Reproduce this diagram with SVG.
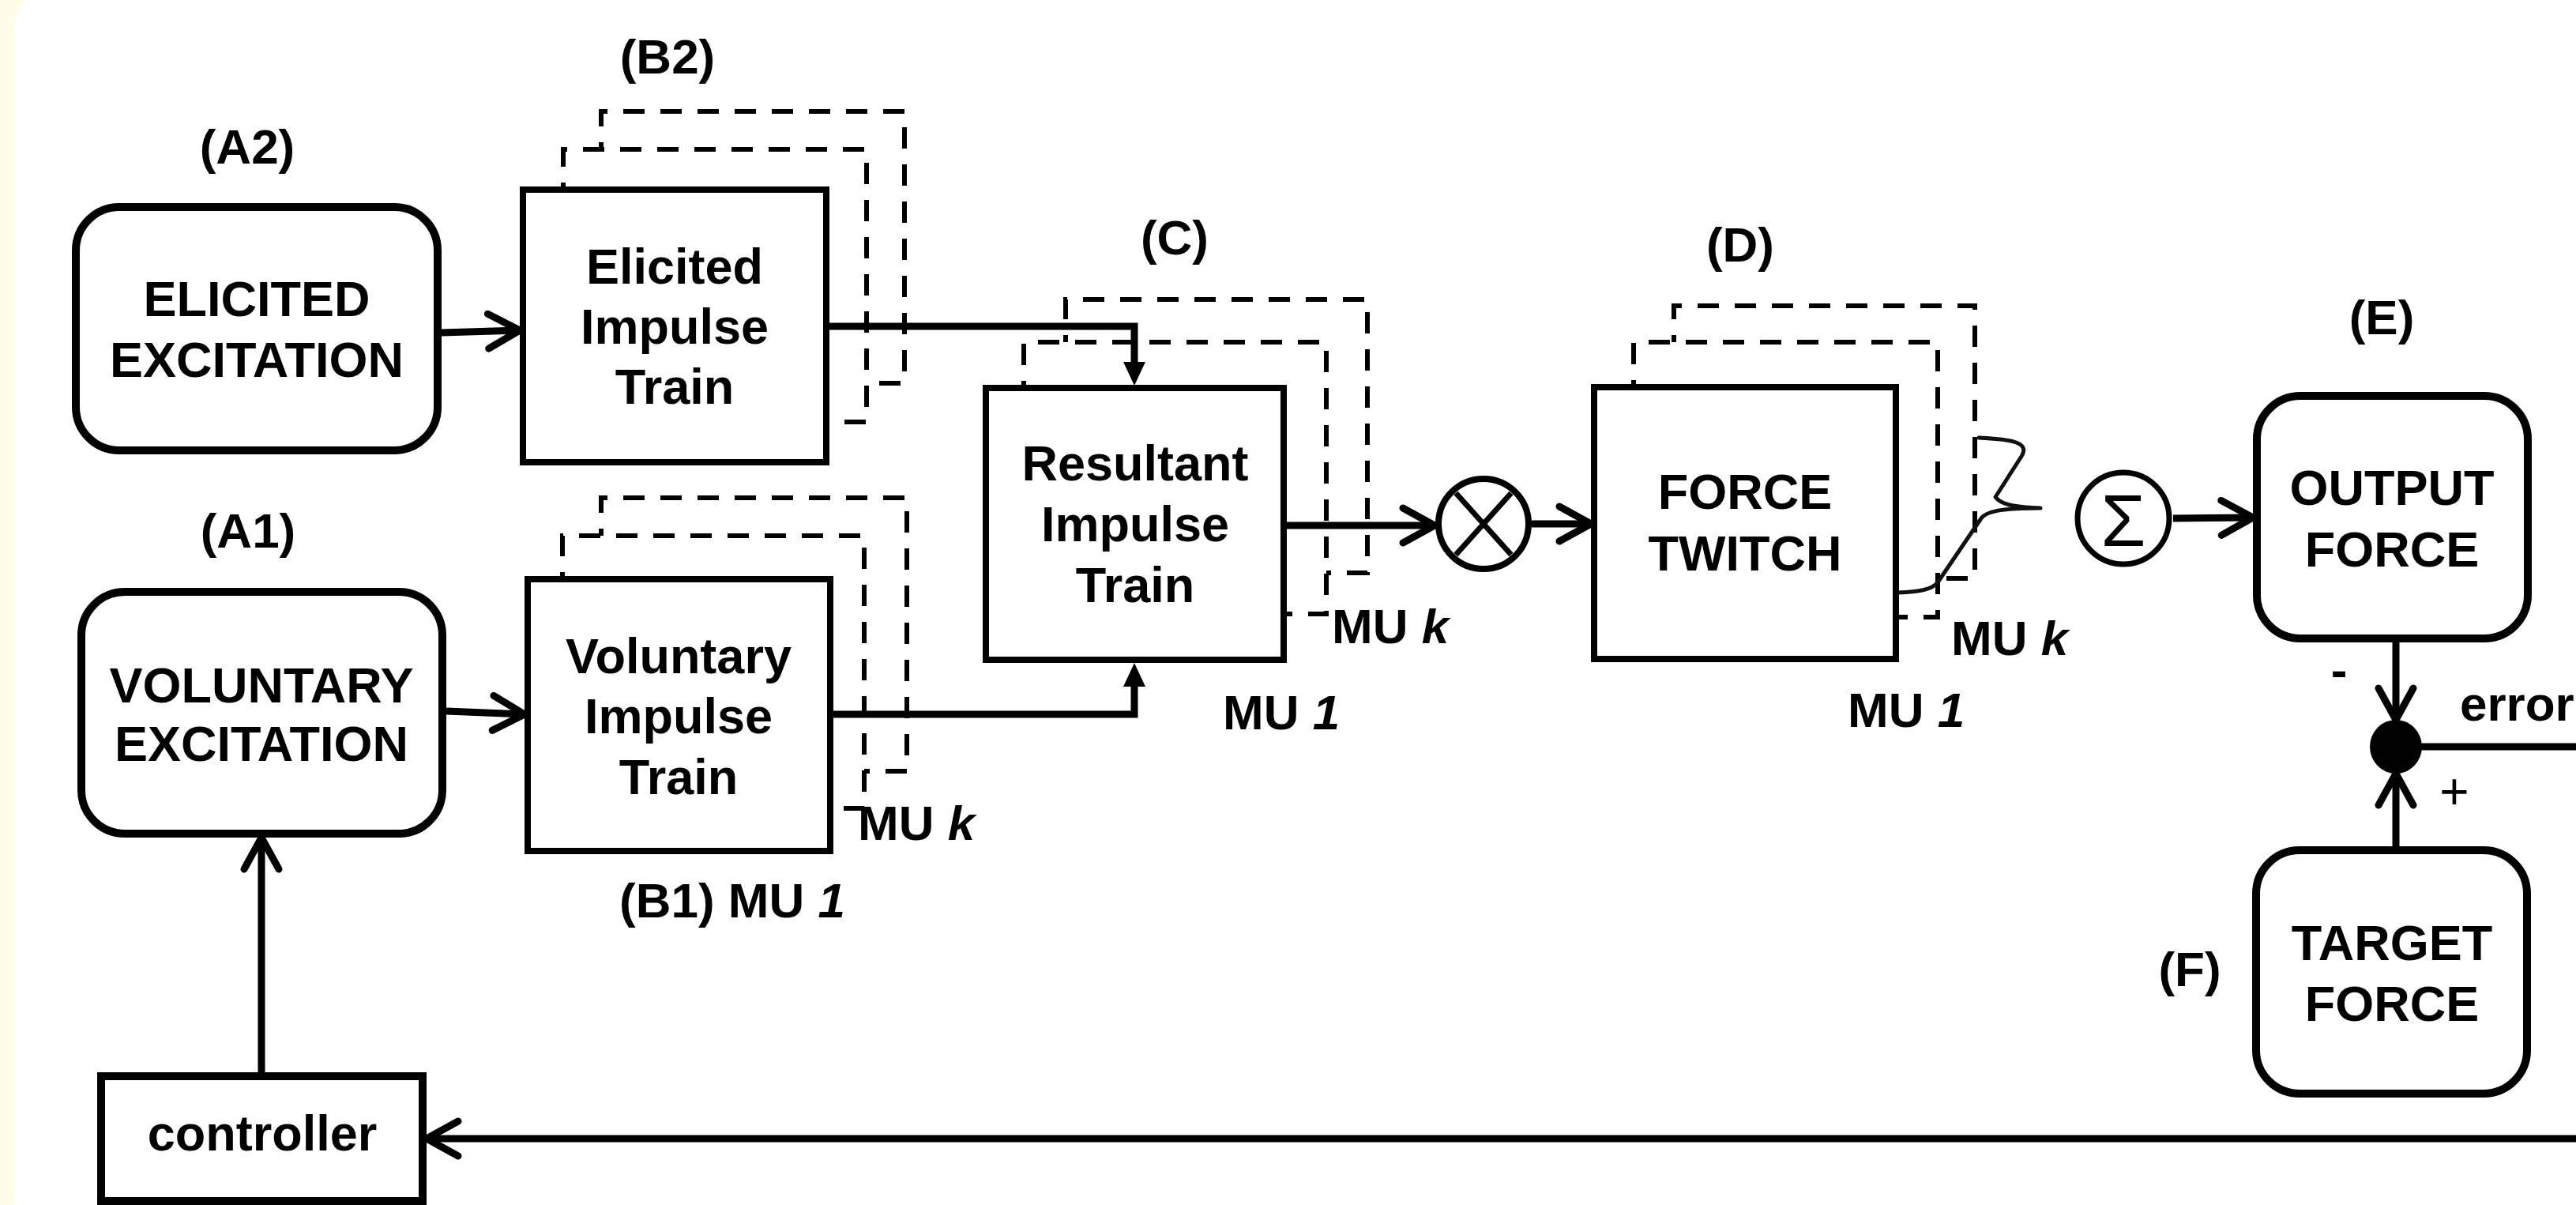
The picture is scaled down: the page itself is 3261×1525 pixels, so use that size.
<svg xmlns="http://www.w3.org/2000/svg" width="3261" height="1525" viewBox="0 0 3261 1525">
<style>
.t{font-family:"Liberation Sans",Arial,Helvetica,sans-serif;font-weight:bold;font-size:63px;text-anchor:middle;fill:#000}
.l{font-family:"Liberation Sans",Arial,Helvetica,sans-serif;font-weight:bold;font-size:62px;fill:#000}
.m{text-anchor:middle}
.it{font-style:italic}
.rr{fill:#fff;stroke:#000;stroke-width:10}
.bx{fill:#fff;stroke:#000;stroke-width:8}
.dash{fill:none;stroke:#000;stroke-width:6;stroke-dasharray:27 20;stroke-dashoffset:18}
.ln{fill:none;stroke:#000;stroke-width:9}
.ch{marker-end:url(#chev)}
.tr{marker-end:url(#tri)}
</style>
<defs>
<marker id="chev" markerUnits="userSpaceOnUse" viewBox="-50 -30 60 60" refX="0" refY="0" markerWidth="60" markerHeight="60" orient="auto" overflow="visible">
<path d="M-40,-22 L0,0 L-40,22" fill="none" stroke="#000" stroke-width="9" stroke-linecap="round" stroke-linejoin="round"/>
</marker>
<marker id="tri" markerUnits="userSpaceOnUse" viewBox="-5 -20 40 40" refX="0" refY="0" markerWidth="40" markerHeight="40" orient="auto" overflow="visible">
<path d="M0,-14 L30,0 L0,14 Z" fill="#000"/>
</marker>
</defs>
<rect x="0" y="0" width="3261" height="1525" fill="#fffde8"/>
<rect x="17" y="-20" width="3320" height="1590" rx="60" ry="60" fill="#fff"/>

<g id="stacks">
<path class="dash" d="M713,240 V189 H1097 V534 H1046"/>
<path class="dash" d="M761,189 V141 H1145 V485 H1097"/>
<path class="dash" d="M712,733 V678 H1094 V1023 H1051"/>
<path class="dash" d="M761,678 V630 H1148 V976 H1094"/>
<path class="dash" d="M1296,491 V433 H1679 V777 H1625"/>
<path class="dash" d="M1349,433 V379 H1731 V725 H1679"/>
<path class="dash" d="M2068,490 V433 H2453 V781 H2400"/>
<path class="dash" d="M2119,433 V387 H2500 V732 H2453"/>
</g>

<g id="connectors">
<path class="ln ch" d="M559,421 L658,418"/>
<path class="ln ch" d="M565,900 L664,904"/>
<path class="ln tr" d="M1046,413 H1436 V458"/>
<path class="ln tr" d="M1051,904 H1436 V869"/>
<path class="ln ch" d="M1625,665 H1816"/>
<path class="ln ch" d="M1939,663 H2014"/>
<path class="ln ch" d="M2751,656 L2852,655"/>
<path class="ln ch" d="M3033,808 V911"/>
<path class="ln ch" d="M3033,1076 V979"/>
<path class="ln ch" d="M3033,945 H3320 V1441 H540"/>
<path class="ln ch" d="M331,1362 V1060"/>
<path d="M2402,750 C2430,749 2446,746 2453,737 L2508,656 C2516,645 2545,643 2583,643 C2556,642 2534,640 2526,629 L2560,576 C2568,560 2548,556 2505,554" fill="none" stroke="#111" stroke-width="5" stroke-linecap="round" stroke-linejoin="round"/>
</g>

<g id="n-elicited-exc">
<rect class="rr" x="96" y="262" width="458" height="308" rx="55" ry="55"/>
<text class="t" x="325" y="400">ELICITED</text>
<text class="t" x="325" y="477">EXCITATION</text>
</g>
<g id="n-voluntary-exc">
<rect class="rr" x="103" y="749" width="457" height="306" rx="55" ry="55"/>
<text class="t" x="331" y="889">VOLUNTARY</text>
<text class="t" x="331" y="963">EXCITATION</text>
</g>
<g id="n-elicited-train">
<rect class="bx" x="662" y="240" width="384" height="345"/>
<text class="t" x="854" y="359">Elicited</text>
<text class="t" x="854" y="435">Impulse</text>
<text class="t" x="854" y="511">Train</text>
</g>
<g id="n-voluntary-train">
<rect class="bx" x="668" y="733" width="383" height="344"/>
<text class="t" x="859" y="852">Voluntary</text>
<text class="t" x="859" y="928">Impulse</text>
<text class="t" x="859" y="1005">Train</text>
</g>
<g id="n-resultant">
<rect class="bx" x="1248" y="491" width="377" height="344"/>
<text class="t" x="1437" y="608">Resultant</text>
<text class="t" x="1437" y="685">Impulse</text>
<text class="t" x="1437" y="762">Train</text>
</g>
<g id="n-mult">
<circle cx="1878" cy="663" r="57" fill="#fff" stroke="#000" stroke-width="8"/>
<path d="M1843,624 L1913,702 M1913,624 L1843,702" stroke="#000" stroke-width="7" fill="none"/>
</g>
<g id="n-force-twitch">
<rect class="bx" x="2018" y="490" width="382" height="344"/>
<text class="t" x="2209" y="644">FORCE</text>
<text class="t" x="2209" y="722">TWITCH</text>
</g>
<g id="n-sum">
<circle cx="2688" cy="656" r="58" fill="#fff" stroke="#000" stroke-width="7"/>
<text x="2688" y="691" font-family="Liberation Sans, Arial, sans-serif" font-size="92" text-anchor="middle">Σ</text>
</g>
<g id="n-output-force">
<rect class="rr" x="2857" y="501" width="343" height="307" rx="55" ry="55"/>
<text class="t" x="3028" y="639">OUTPUT</text>
<text class="t" x="3028" y="717">FORCE</text>
</g>
<g id="n-junction">
<ellipse cx="3033" cy="945" rx="33" ry="34" fill="#000"/>
</g>
<g id="n-target-force">
<rect class="rr" x="2856" y="1076" width="343" height="308" rx="55" ry="55"/>
<text class="t" x="3028" y="1215">TARGET</text>
<text class="t" x="3028" y="1292">FORCE</text>
</g>
<g id="n-controller">
<rect class="rr" x="128" y="1362" width="407" height="158"/>
<text class="t" x="332" y="1456">controller</text>
</g>

<g id="labels">
<text class="l m" x="313" y="207">(A2)</text>
<text class="l m" x="845" y="93">(B2)</text>
<text class="l m" x="314" y="693">(A1)</text>
<text class="l m" x="1487" y="322">(C)</text>
<text class="l m" x="2203" y="331">(D)</text>
<text class="l m" x="3015" y="423">(E)</text>
<text class="l m" x="2772" y="1248">(F)</text>
<text class="l" x="784" y="1161">(B1) MU <tspan class="it">1</tspan></text>
<text class="l" x="1086" y="1063">MU <tspan class="it">k</tspan></text>
<text class="l" x="1686" y="814">MU <tspan class="it">k</tspan></text>
<text class="l" x="1548" y="923">MU <tspan class="it">1</tspan></text>
<text class="l" x="2470" y="829">MU <tspan class="it">k</tspan></text>
<text class="l" x="2339" y="920">MU <tspan class="it">1</tspan></text>
<text class="l" x="3114" y="912">error</text>
<text class="l m" x="2961" y="869">-</text>
<text x="3107" y="1024" font-family="Liberation Sans, Arial, sans-serif" font-size="64" text-anchor="middle">+</text>
</g>
</svg>
